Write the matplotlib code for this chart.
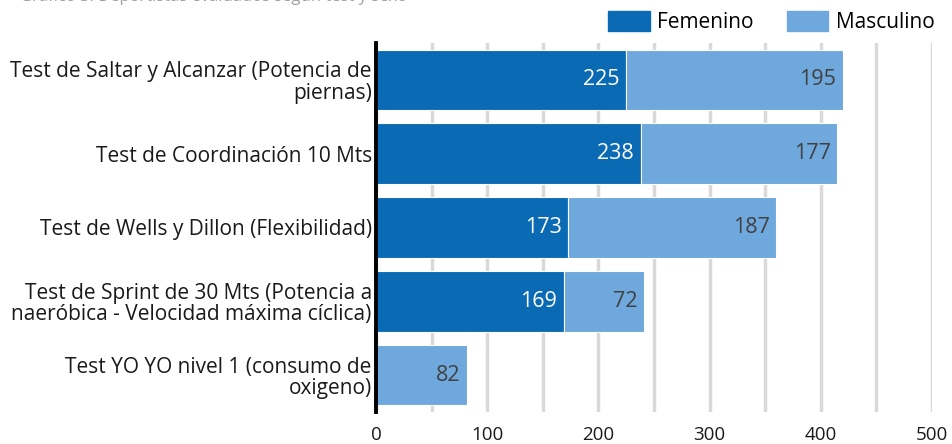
import matplotlib
matplotlib.use("Agg")
import matplotlib.pyplot as plt
from matplotlib.patches import Patch

plt.rcParams['font.family'] = ['Open Sans', 'DejaVu Sans']

# data
tests = [
    "Test de Saltar y Alcanzar (Potencia de\npiernas)",
    "Test de Coordinación 10 Mts",
    "Test de Wells y Dillon (Flexibilidad)",
    "Test de Sprint de 30 Mts (Potencia a\nnaeróbica - Velocidad máxima cíclica)",
    "Test YO YO nivel 1 (consumo de\noxigeno)",
]
femenino = [225, 238, 173, 169, 0]
masculino = [195, 177, 187, 72, 82]
x_ticks = [0, 100, 200, 300, 400, 500]

col_f = '#0b6ab4'
col_m = '#6fa8dc'

W, H = 953, 444
fig = plt.figure(figsize=(W / 100, H / 100), dpi=100)
ax = fig.add_axes([376 / W, 1 - 412 / H, 556 / W, 369 / H])

ypos = list(range(len(tests)))
ax.barh(ypos, femenino, height=0.82, color=col_f, edgecolor='white', linewidth=0.8, zorder=3)
ax.barh(ypos, masculino, left=femenino, height=0.82, color=col_m, edgecolor='white', linewidth=0.8, zorder=3)

for i in ypos:
    if femenino[i] > 0:
        ax.text(femenino[i] - 6, i, str(femenino[i]), ha='right', va='center',
                color='white', fontsize=15.5, zorder=4)
    if masculino[i] > 0:
        ax.text(femenino[i] + masculino[i] - 6, i, str(masculino[i]), ha='right', va='center',
                color='#404040', fontsize=15.5, zorder=4)

ax.set_ylim(len(tests) - 0.5, -0.5)
ax.set_xlim(0, 500)
ax.set_yticks(ypos)
ax.set_yticklabels(tests, fontsize=15, color='#1a1a1a', linespacing=1.02)
ax.set_xticks(x_ticks)
ax.set_xticklabels([str(v) for v in x_ticks], fontsize=13.5, color='#1a1a1a')
ax.set_xticks(range(50, 501, 100), minor=True)
ax.tick_params(axis='both', length=0, which='both')
ax.tick_params(axis='x', pad=10)
ax.tick_params(axis='y', pad=3)
ax.grid(axis='x', which='both', color='#d9d9d9', linewidth=2.5, zorder=0)
for s in ['top', 'right', 'bottom']:
    ax.spines[s].set_visible(False)
ax.spines['left'].set_linewidth(2.8)
ax.spines['left'].set_color('black')
ax.spines['left'].set_zorder(5)

handles = [Patch(color=col_f, label='Femenino'), Patch(color=col_m, label='Masculino')]
fig.legend(handles=handles, loc='center right', bbox_to_anchor=(935 / W, 1 - 22 / H), ncol=2,
           frameon=False, fontsize=15, handlelength=1.97, handleheight=1.06,
           handletextpad=0.38, columnspacing=1.6, borderpad=0, borderaxespad=0)

# title mostly cut off at the top of the picture
fig.text(20 / W, 1 - 1 / H, "Gráfico 3. Deportistas evaluados según test y sexo", fontsize=12,
         color='#a0a0a0', ha='left', va='baseline')

fig.savefig('out.png', dpi=100)
